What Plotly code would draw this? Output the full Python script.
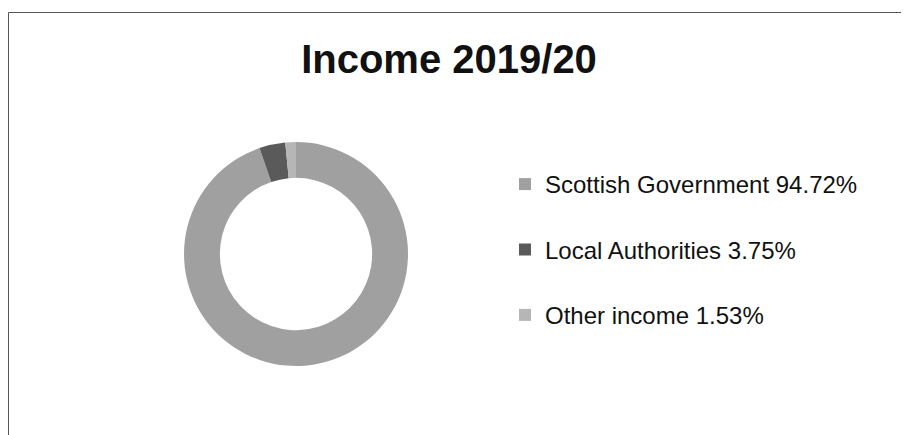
import plotly.graph_objects as go

title_text = "Income 2019/20"
categories = ["Scottish Government", "Local Authorities", "Other income"]
shares = [94.72, 3.75, 1.53]
colors = ["#a0a0a0", "#5a5a5a", "#b6b6b6"]

W, H = 909, 435
legend_labels = [f"{c} {v:.2f}%<br> " for c, v in zip(categories, shares)]

cx, cy, R = 288, 246, 112

fig = go.Figure(
    go.Pie(
        labels=legend_labels,
        values=shares,
        sort=False,
        direction="clockwise",
        rotation=0,
        hole=0.68,
        marker=dict(colors=colors, line=dict(width=0)),
        textinfo="none",
        hoverinfo="skip",
        domain=dict(x=[(cx - R) / W, (cx + R) / W], y=[(H - cy - R) / H, (H - cy + R) / H]),
    )
)

fig.update_layout(
    width=W,
    height=H,
    margin=dict(l=0, r=0, t=0, b=0),
    paper_bgcolor="white",
    plot_bgcolor="white",
    font=dict(family="Liberation Sans, Arial, sans-serif", color="#111111"),
    title=dict(
        text=title_text,
        x=441 / W,
        xanchor="center",
        y=1 - 51 / H,
        yanchor="middle",
        font=dict(size=40, weight="bold", color="#111111"),
    ),
    showlegend=True,
    legend=dict(
        x=497 / W,
        xanchor="left",
        y=1 - 154 / H,
        yanchor="top",
        valign="top",
        font=dict(size=24, color="#111111"),
        bgcolor="rgba(0,0,0,0)",
        itemclick=False,
    ),
    shapes=[
        dict(type="line", xref="paper", yref="paper", x0=0.5 / W, x1=1.0, y0=1 - 4.5 / H, y1=1 - 4.5 / H,
             line=dict(color="#555555", width=1)),
        dict(type="line", xref="paper", yref="paper", x0=0.5 / W, x1=0.5 / W, y0=0, y1=1 - 4.5 / H,
             line=dict(color="#555555", width=1)),
    ],
)

fig.write_html("out.html")
